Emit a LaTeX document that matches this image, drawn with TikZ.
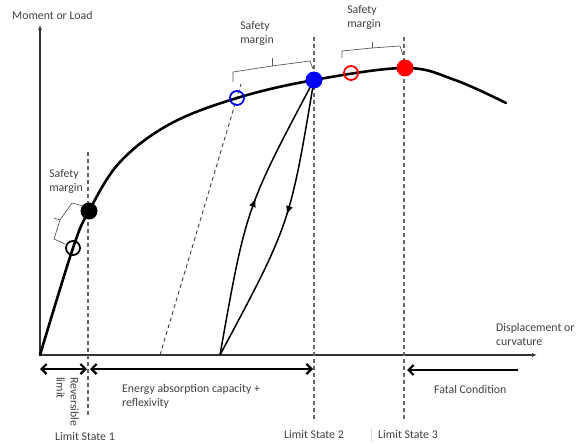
\documentclass[tikz,border=0pt]{standalone}
\usepackage{fontspec}
\setmainfont{Carlito}
\usetikzlibrary{arrows.meta,decorations.markings}
\begin{document}
\begin{tikzpicture}[x=1pt,y=-1pt,
 txt/.style={font=\fontsize{11.8}{14}\selectfont, text=black!75, inner sep=0pt},
 axis/.style={line width=1.4pt, draw=black!80, -{Latex[length=5pt,width=4pt]}},
 lsline/.style={draw=black!60, line width=1.1pt, dash pattern=on 4pt off 3pt},
 maincurve/.style={line width=2.6pt, line cap=round},
 brk/.style={draw=black!65, line width=0.7pt},
 dotf/.style={circle, minimum size=17pt, inner sep=0pt, fill=#1},
 doto/.style={circle, minimum size=14pt, inner sep=0pt, draw=#1, line width=1.8pt},
 spanarrow/.style={line width=2.2pt, {Straight Barb[length=5pt,width=10pt]}-{Straight Barb[length=5pt,width=10pt]}},
 onearrow/.style={line width=2.2pt, -{Straight Barb[length=5pt,width=10pt]}},
 cyc/.style={line width=1.5pt, postaction={decorate}, decoration={markings, mark=at position #1 with {\arrow{Latex[length=9pt,width=7pt]}}}},
]
\useasboundingbox (0,0) rectangle (576,444);

% axes
\coordinate (O) at (40,355);
\coordinate (ytop) at (40,25);
\coordinate (xend) at (537,355);
\draw[axis] (O) -- (ytop);
\draw[axis] (O) -- (xend);
\node[txt, anchor=west] (ylab) at (12,15) {Moment or Load};
\node[txt, anchor=west, align=left] (xlab) at (496,334) {Displacement or\\curvature};

% limit state lines
\coordinate (l1t) at (88,152); \coordinate (l1b) at (88,418);
\coordinate (l2t) at (314,37); \coordinate (l2b) at (314,420);
\coordinate (l3t) at (404,37); \coordinate (l3b) at (404,420);
\draw[lsline] (l1t) -- (l1b);
\draw[lsline] (l2t) -- (l2b);
\draw[lsline] (l3t) -- (l3b);

% dashed elastic line
\coordinate (d0) at (160,355); \coordinate (d1) at (241,84);
\draw[draw=black!75, line width=0.9pt, dash pattern=on 4pt off 3pt] (d0) -- (d1);

% main curve
\draw[maincurve] plot[smooth, tension=0.6] coordinates {(40,355) (73,248) (89,211) (120,162) (170,124) (237,98) (314,80) (405,68) (455,80) (506,103)};

% loading/unloading cycle
\coordinate (c0) at (220,355);
\coordinate (bfc) at (314,80);
\draw[cyc=0.55] (c0) .. controls (246,208) .. (bfc);
\draw[cyc=0.47] (bfc) .. controls (290,224) .. (c0);

% points
\node[doto=black] (ko) at (73,248) {};
\node[dotf=black] (kf) at (89,211) {};
\node[doto=blue] (bo) at (237,98) {};
\node[dotf=blue] (bf) at (bfc) {};
\node[doto=red] (ro) at (351,73) {};
\node[dotf=red] (rf) at (405,68) {};

% braces
\draw[brk] (83,206) -- (72,203) -- (60,220) -- (54,239) -- (65,244);
\draw[brk] (60,220) -- (54,218);
\draw[brk] (233,82) -- (233,72) -- (272,66) -- (310,61) -- (313,69);
\draw[brk] (272,66) -- (272,58);
\draw[brk] (342,58) -- (342,51) -- (372,48) -- (400,46) -- (403,55);
\draw[brk] (372,48) -- (372,42);

\node[txt, align=left] (sm1) at (66,181) {Safety\\margin};
\node[txt, align=left] (sm2) at (257,33) {Safety\\margin};
\node[txt, align=left] (sm3) at (364,17) {Safety\\margin};

% bottom spans
\coordinate (a1) at (40,369); \coordinate (a2) at (87,369);
\coordinate (a3) at (90,369); \coordinate (a4) at (313,369);
\coordinate (a5) at (518,370); \coordinate (a6) at (407,370);
\draw[spanarrow] (a1) -- (a2);
\draw[spanarrow] (a3) -- (a4);
\draw[onearrow] (a5) -- (a6);

\node[txt, rotate=-90, anchor=north west, align=left] (rev) at (79,377) {Reversible\\limit};
\node[txt, anchor=west, align=left] (energy) at (122,396) {Energy absorption capacity +\\reflexivity};
\node[txt, anchor=west] (fatal) at (434,389) {Fatal Condition};

\node[txt] (ls1) at (85,436) {Limit State 1};
\node[txt] (ls2) at (314,434) {Limit State 2};
\node[txt] (ls3) at (408,434) {Limit State 3};
\coordinate (f1) at (371,428); \coordinate (f2) at (371,442);
\draw[black!15, line width=0.6pt] (f1) -- (f2);
\end{tikzpicture}
\end{document}
